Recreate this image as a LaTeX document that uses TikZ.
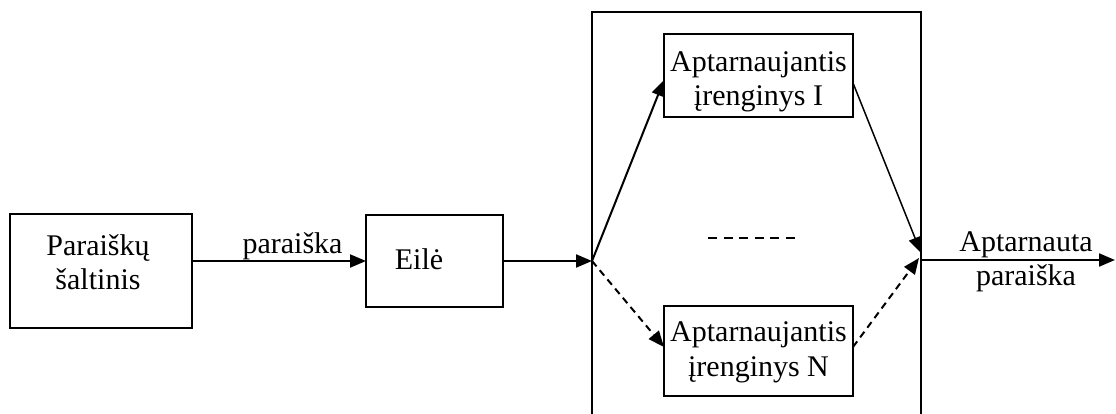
\documentclass[tikz,border=0pt]{standalone}
\usepackage{fontspec}
\setmainfont{Liberation Serif}
\usetikzlibrary{arrows.meta}

\begin{document}
\begin{tikzpicture}[
  x=1pt, y=-1pt,
  font=\fontsize{30}{34.5}\selectfont,
  box/.style={draw, line width=2pt, inner sep=0pt, outer sep=0pt},
  txt/.style={inner sep=0pt, align=center},
  arr/.style={line width=2pt, -{Triangle[length=16pt,width=13pt]}},
  darr/.style={arr, dash pattern=on 7pt off 5pt},
]
\useasboundingbox (0,0) rectangle (1116,414);

% blocks
\node[box, minimum width=182pt, minimum height=114pt] (src) at (101,271) {};
\node[txt] (srcT) at (98,262) {Paraiškų\\šaltinis};

\node[box, minimum width=137pt, minimum height=92pt] (queue) at (434.5,261) {};
\node[txt, anchor=base] (queueT) at (419,269) {Eilė};

% service stage (open at the bottom)
\node[minimum width=329pt, minimum height=402pt, inner sep=0pt, outer sep=0pt] (stage) at (756.5,213) {};
\draw[line width=2pt] (stage.south west) |- (stage.north east) -- (stage.south east);

\node[box, minimum width=189pt, minimum height=83pt] (srv1) at (758.5,75.5) {};
\node[txt] (srv1T) at (758.5,82) {Aptarnaujantis\\įrenginys I};

\node[box, minimum width=189pt, minimum height=90pt] (srvN) at (758.5,351) {};
\node[txt] (srvNT) at (758.5,352.5) {Aptarnaujantis\\įrenginys N};

% points on the stage border
\coordinate (fork) at (stage.west |- queue.east);
\coordinate (joinA) at (921,253);
\coordinate (joinB) at (919,258);
\coordinate (out) at (1115,260);
\coordinate (dotsL) at (708,238);
\coordinate (dotsR) at (795,238);

% flow
\draw[arr] (src.east |- queue.west) -- (queue.west);
\node[txt, anchor=base] (reqT) at (292.5,253) {paraiška};
\draw[arr] (queue.east) -- (fork);

\draw[arr] (fork) -- ([yshift=-4.5pt]srv1.west);
\draw[darr] (fork) -- ([yshift=4pt]srvN.west);

\draw[arr, line width=1.5pt] ([yshift=-7.5pt]srv1.east) -- (joinA);
\draw[darr] ([yshift=4pt]srvN.east) -- (joinB);

\draw[line width=1.8pt, dash pattern=on 9pt off 6.6pt] (dotsL) -- (dotsR);

\draw[arr] (stage.east |- out) -- (out);
\node[txt] (outT) at (1026,262) {Aptarnauta\\paraiška};
\end{tikzpicture}
\end{document}
